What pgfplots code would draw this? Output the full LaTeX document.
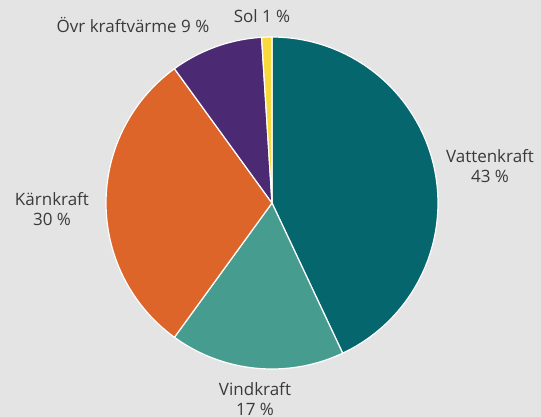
\documentclass[border=0pt]{standalone}
\usepackage{pgfplots}
\pgfplotsset{compat=1.18}
\usepackage{pgfplotstable}
\usepackage{fontspec}
\setmainfont{Open Sans}
\usetikzlibrary{backgrounds}
\definecolor{bg}{HTML}{E4E4E4}
\definecolor{vatten}{HTML}{05666E}
\definecolor{vind}{HTML}{469C8E}
\definecolor{karn}{HTML}{DD6529}
\definecolor{ovr}{HTML}{4B2A73}
\definecolor{sol}{HTML}{F8D83A}
\definecolor{txt}{HTML}{3A3A3A}
\tikzset{lbl/.style={font=\fontsize{17}{20}\selectfont, text=txt, align=center, inner sep=0pt}}

% share in percent, clockwise from the top
\pgfplotstableread{
name share
Vattenkraft 43
Vindkraft 17
Karnkraft 30
Ovr 9
Sol 1
}\piedata

\begin{document}
\begin{tikzpicture}[show background rectangle,
  background rectangle/.style={fill=bg, draw=none}, inner frame sep=0pt]
\begin{axis}[
  scale only axis, width=541pt, height=417pt,
  xmin=-272, xmax=269, ymin=-214, ymax=203,
  hide axis, clip=false,
]
\def\r{166}
\pgfmathsetmacro{\a}{90}
\pgfplotsforeachungrouped \i/\c in {0/vatten,1/vind,2/karn,3/ovr,4/sol}{
  \pgfplotstablegetelem{\i}{share}\of\piedata
  \pgfmathsetmacro{\b}{\a-3.6*\pgfplotsretval}
  \edef\temp{\noexpand\addplot[fill=\c, draw=white, line width=1.2pt, line join=round,
     domain=\b:\a, samples=60, variable=\noexpand\t]
     ({\r*cos(\noexpand\t)},{\r*sin(\noexpand\t)}) -- (axis cs:0,0) -- cycle;}
  \temp
  \global\let\a\b
}
\node[lbl] at (axis cs:218,37) {Vattenkraft\\43 \%};
\node[lbl] at (axis cs:-220,-6) {Kärnkraft\\30 \%};
\node[lbl] at (axis cs:-17,-196) {Vindkraft\\17 \%};
\node[lbl] at (axis cs:-139,178) {Övr kraftvärme 9 \%};
\node[lbl] at (axis cs:-10,187) {Sol 1 \%};
\end{axis}
\pgfresetboundingbox
\path (current axis.south west) rectangle (current axis.north east);
\end{tikzpicture}
\end{document}
